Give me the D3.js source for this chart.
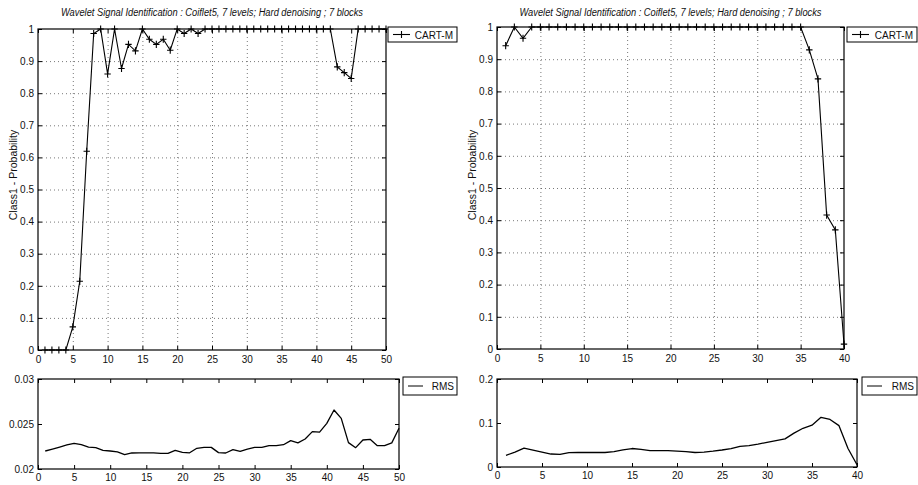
<!DOCTYPE html>
<html>
<head>
<meta charset="utf-8">
<script src="https://cdn.jsdelivr.net/npm/d3@7"></script>
<style>
  html, body { margin: 0; padding: 0; background: #fff; }
  svg { display: block; }
  text { font-family: 'Liberation Sans Narrow', 'Liberation Sans', Arial, sans-serif; fill: #111; }
</style>
</head>
<body>
<svg id="chart" width="918" height="485"></svg>
<script>
// Class-1 probability per block (CART-M classifier), left run: 50 blocks
const probLeft = [0, 0, 0, 0, 0.072, 0.214, 0.619, 0.986, 1, 0.86,
  1, 0.877, 0.952, 0.932, 1, 0.968, 0.952, 0.968, 0.934, 1,
  0.986, 1, 0.986, 1, 1, 1, 1, 1, 1, 1,
  1, 1, 1, 1, 1, 1, 1, 1, 1, 1,
  1, 1, 0.882, 0.864, 0.846, 1, 1, 1, 1, 1];

// Class-1 probability per block, right run: 40 blocks
const probRight = [0.942, 1, 0.965, 1, 1, 1, 1, 1, 1, 1,
  1, 1, 1, 1, 1, 1, 1, 1, 1, 1,
  1, 1, 1, 1, 1, 1, 1, 1, 1, 1,
  1, 1, 1, 1, 1, 0.929, 0.839, 0.416, 0.37, 0.015];

// RMS of the denoised signal per block
const rmsLeft = [0.0220, 0.02222, 0.02244, 0.02267, 0.02285, 0.0227, 0.02244, 0.02237, 0.02207, 0.0220,
  0.0219, 0.02159, 0.02178, 0.0218, 0.0218, 0.0218, 0.02174, 0.02174, 0.02207, 0.02185,
  0.0218, 0.0223, 0.0224, 0.0224, 0.02182, 0.02178, 0.02215, 0.02196, 0.0222, 0.0224,
  0.0224, 0.02259, 0.02259, 0.0227, 0.02315, 0.0229, 0.02333, 0.02415, 0.0241, 0.02507,
  0.02656, 0.02563, 0.02293, 0.02237, 0.02322, 0.0233, 0.02259, 0.02259, 0.0229, 0.02452];

const rmsRight = [0.0265, 0.034, 0.043, 0.0386, 0.034, 0.0295, 0.0288, 0.0326, 0.033, 0.033,
  0.033, 0.033, 0.0348, 0.039, 0.042, 0.040, 0.037, 0.037, 0.037, 0.036,
  0.035, 0.033, 0.034, 0.036, 0.0386, 0.042, 0.047, 0.0485, 0.052, 0.056,
  0.060, 0.064, 0.077, 0.088, 0.095, 0.113, 0.108, 0.094, 0.042, 0.005];

// Tick values
const probTicks = [0, 0.1, 0.2, 0.3, 0.4, 0.5, 0.6, 0.7, 0.8, 0.9, 1];
const blockTicksLeft = [0, 5, 10, 15, 20, 25, 30, 35, 40, 45, 50];
const blockTicksRight = [0, 5, 10, 15, 20, 25, 30, 35, 40];
const rmsTicksLeft = [0.02, 0.025, 0.03];
const rmsTicksRight = [0, 0.1, 0.2];

const titleText = "Wavelet Signal Identification : Coiflet5, 7 levels; Hard denoising ; 7 blocks";
const yLabelText = "Class1 - Probability";
const probLegend = "CART-M";
const rmsLegend = "RMS";

const svg = d3.select("#chart");

function fmt(v) {
  if (v === 0) return "0";
  if (v === 1) return "1";
  return String(+v.toFixed(3));
}

function drawAxesFrame(g, x, y, xTicks, yTicks, withGrid, xLabelDy) {
  const [x0, x1] = x.range();
  const [y0, y1] = y.range(); // y0 bottom, y1 top
  const w = x1 - x0, h = y0 - y1;

  if (withGrid) {
    g.append("g").attr("class", "grid")
      .attr("transform", `translate(0,${y0})`)
      .call(d3.axisBottom(x).tickValues(xTicks.slice(1, -1)).tickSize(-h).tickFormat(""))
      .call(s => s.select(".domain").remove())
      .selectAll("line").attr("stroke", "#555").attr("stroke-width", 0.8).attr("stroke-dasharray", "1,3");
    g.append("g").attr("class", "grid")
      .attr("transform", `translate(${x0},0)`)
      .call(d3.axisLeft(y).tickValues(yTicks.slice(1, -1)).tickSize(-w).tickFormat(""))
      .call(s => s.select(".domain").remove())
      .selectAll("line").attr("stroke", "#555").attr("stroke-width", 0.8).attr("stroke-dasharray", "1,3");
  }

  // bottom axis with labels, ticks pointing inward
  const bx = g.append("g").attr("transform", `translate(0,${y0})`)
    .call(d3.axisBottom(x).tickValues(xTicks).tickSize(-4).tickPadding(xLabelDy).tickFormat(fmt));
  // left axis with labels
  const ly = g.append("g").attr("transform", `translate(${x0},0)`)
    .call(d3.axisLeft(y).tickValues(yTicks).tickSize(-4).tickPadding(4).tickFormat(fmt));
  // top and right ticks
  const tx = g.append("g").attr("transform", `translate(0,${y1})`)
    .call(d3.axisTop(x).tickValues(xTicks).tickSize(-4).tickFormat(""));
  const ry = g.append("g").attr("transform", `translate(${x1},0)`)
    .call(d3.axisRight(y).tickValues(yTicks).tickSize(-4).tickFormat(""));

  [bx, ly, tx, ry].forEach(a => {
    a.select(".domain").remove();
    a.selectAll("line").attr("stroke", "#000").attr("stroke-width", 1);
    a.selectAll("text").style("font-size", "10px").attr("fill", "#111")
      .style("font-family", "'Liberation Sans Narrow', 'Liberation Sans', Arial, sans-serif");
  });

  g.append("rect")
    .attr("x", x0).attr("y", y1).attr("width", w).attr("height", h)
    .attr("fill", "none").attr("stroke", "#000").attr("stroke-width", 1.2);
}

function plusPath(cx, cy) {
  return `M${cx - 3.2},${cy}H${cx + 3.2}M${cx},${cy - 3.6}V${cy + 3.6}`;
}

function drawProbPanel(cfg) {
  const g = svg.append("g");
  const x = d3.scaleLinear().domain([0, cfg.xMax]).range([cfg.left, cfg.right]);
  const y = d3.scaleLinear().domain([0, 1]).range([cfg.bottom, cfg.top]);

  drawAxesFrame(g, x, y, cfg.xTicks, probTicks, true, 6);

  const pts = cfg.values.map((v, i) => [i + 1, v]);
  g.append("path").datum(pts)
    .attr("fill", "none").attr("stroke", "#000").attr("stroke-width", 1.1)
    .attr("d", d3.line().x(d => x(d[0])).y(d => y(d[1])));
  g.append("g").selectAll("path").data(pts).join("path")
    .attr("d", d => plusPath(x(d[0]), y(d[1])))
    .attr("stroke", "#000").attr("stroke-width", 1.1).attr("fill", "none");

  // title
  svg.append("text")
    .attr("x", (cfg.left + cfg.right) / 2).attr("y", 16)
    .attr("text-anchor", "middle")
    .style("font-size", "10px").style("font-style", "italic")
    .attr("textLength", 302).attr("lengthAdjust", "spacingAndGlyphs")
    .text(titleText);

  // y label
  svg.append("text")
    .attr("transform", `translate(${cfg.ylabX},175) rotate(-90)`)
    .attr("text-anchor", "middle")
    .style("font-size", "10.5px")
    .text(yLabelText);

  // legend
  const lg = svg.append("g");
  lg.append("rect").attr("x", cfg.legX).attr("y", 27).attr("width", cfg.legW).attr("height", 15)
    .attr("fill", "#fff").attr("stroke", "#000").attr("stroke-width", 1);
  const lx = cfg.legX + 5;
  lg.append("path").attr("d", `M${lx},34.5H${lx + 17}`).attr("stroke", "#000").attr("stroke-width", 1.1);
  lg.append("path").attr("d", plusPath(lx + 8.5, 34.5)).attr("stroke", "#000").attr("stroke-width", 1.1);
  lg.append("text").attr("x", cfg.legX + cfg.legW - 4).attr("y", 38.5)
    .attr("text-anchor", "end").style("font-size", "10px").text(probLegend);
}

function drawRmsPanel(cfg) {
  const g = svg.append("g");
  const x = d3.scaleLinear().domain([0, cfg.xMax]).range([cfg.left, cfg.right]);
  const y = d3.scaleLinear().domain(cfg.yDomain).range([cfg.bottom, cfg.top]);

  drawAxesFrame(g, x, y, cfg.xTicks, cfg.yTicks, false, 5);

  const pts = cfg.values.map((v, i) => [i + 1, v]);
  g.append("path").datum(pts)
    .attr("fill", "none").attr("stroke", "#000").attr("stroke-width", 1.3)
    .attr("stroke-linejoin", "round")
    .attr("d", d3.line().x(d => x(d[0])).y(d => y(d[1])));

  const lg = svg.append("g");
  lg.append("rect").attr("x", cfg.legX).attr("y", 377).attr("width", cfg.legW).attr("height", 18)
    .attr("fill", "#fff").attr("stroke", "#000").attr("stroke-width", 1);
  lg.append("path").attr("d", `M${cfg.legX + 5},386H${cfg.legX + 20}`).attr("stroke", "#000").attr("stroke-width", 1);
  lg.append("text").attr("x", cfg.legX + cfg.legW - 3).attr("y", 390)
    .attr("text-anchor", "end").style("font-size", "10px").text(rmsLegend);
}

drawProbPanel({ values: probLeft, xMax: 50, xTicks: blockTicksLeft,
  left: 38, right: 386, top: 29, bottom: 350, ylabX: 17, legX: 388, legW: 69 });
drawProbPanel({ values: probRight, xMax: 40, xTicks: blockTicksRight,
  left: 497, right: 844, top: 27, bottom: 349, ylabX: 476, legX: 847, legW: 70 });

drawRmsPanel({ values: rmsLeft, xMax: 50, xTicks: blockTicksLeft, yTicks: rmsTicksLeft,
  yDomain: [0.02, 0.03], left: 38, right: 399, top: 379, bottom: 469, legX: 403, legW: 54 });
drawRmsPanel({ values: rmsRight, xMax: 40, xTicks: blockTicksRight, yTicks: rmsTicksRight,
  yDomain: [0, 0.2], left: 497, right: 857, top: 379, bottom: 467, legX: 862, legW: 55 });
</script>
</body>
</html>
